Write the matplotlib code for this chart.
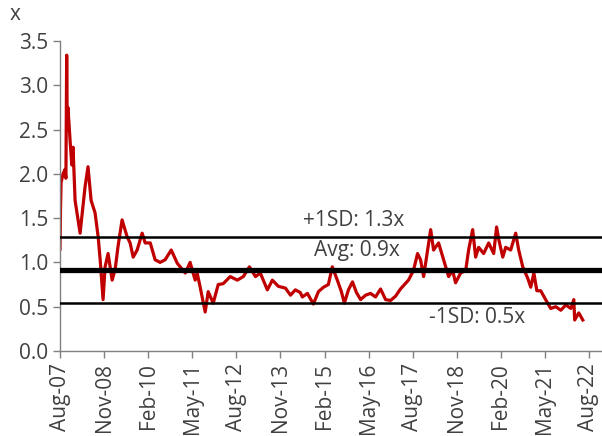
import matplotlib
matplotlib.use('Agg')
import matplotlib.pyplot as plt
import matplotlib.dates as mdates
import pandas as pd

# P/B-style multiple
dates = [
    '2007-08-01', '2007-08-06', '2007-08-12', '2007-09-01', '2007-09-22', '2007-10-01',
    '2007-10-09', '2007-10-15', '2007-10-22', '2007-11-13', '2007-12-01', '2007-12-14',
    '2008-01-04', '2008-02-25', '2008-04-16', '2008-05-17', '2008-06-18', '2008-07-29',
    '2008-08-30', '2008-09-20', '2008-10-20', '2008-11-10', '2008-12-11', '2009-01-22',
    '2009-02-22', '2009-03-24', '2009-05-05', '2009-06-26', '2009-07-27', '2009-08-28',
    '2009-10-08', '2009-11-29', '2009-12-30', '2010-02-21', '2010-04-12', '2010-06-03',
    '2010-07-25', '2010-09-26', '2010-11-28', '2011-02-19', '2011-04-10', '2011-06-01',
    '2011-06-22', '2011-07-23', '2011-09-13', '2011-10-14', '2011-12-05', '2012-01-26',
    '2012-03-18', '2012-05-29', '2012-08-11', '2012-10-12', '2012-12-14', '2013-02-15',
    '2013-04-06', '2013-06-18', '2013-08-09', '2013-10-10', '2013-12-22', '2014-02-13',
    '2014-04-04', '2014-05-25', '2014-06-16', '2014-08-07', '2014-10-08', '2014-11-29',
    '2015-01-21', '2015-03-12', '2015-04-22', '2015-06-13', '2015-07-25', '2015-08-25',
    '2015-10-06', '2015-11-17', '2015-12-28', '2016-02-09', '2016-04-01', '2016-05-22',
    '2016-07-13', '2016-09-03', '2016-10-25', '2016-12-16', '2017-02-06', '2017-03-28',
    '2017-06-19', '2017-08-10', '2017-09-21', '2017-10-22', '2017-11-23', '2018-01-03',
    '2018-02-04', '2018-03-06', '2018-04-27', '2018-06-18', '2018-08-09', '2018-09-19',
    '2018-10-20', '2018-12-11', '2019-02-02', '2019-03-04', '2019-04-15', '2019-05-16',
    '2019-06-16', '2019-08-07', '2019-09-28', '2019-11-19', '2019-12-19', '2020-01-10',
    '2020-02-21', '2020-03-22', '2020-05-13', '2020-07-04', '2020-08-04', '2020-09-15',
    '2020-11-06', '2020-12-07', '2021-01-08', '2021-02-08', '2021-03-20', '2021-05-10',
    '2021-07-02', '2021-08-23', '2021-10-14', '2021-12-05', '2022-01-26', '2022-02-26',
    '2022-03-07', '2022-04-18', '2022-05-30',
]
values = [
    1.15, 1.60, 1.90, 2.00, 2.05, 1.95,
    3.34, 2.50, 2.75, 2.38, 2.10, 2.30,
    1.70, 1.33, 1.85, 2.08, 1.70, 1.56,
    1.29, 1.03, 0.58, 0.95, 1.10, 0.80,
    0.92, 1.18, 1.48, 1.29, 1.22, 1.06,
    1.14, 1.33, 1.22, 1.22, 1.03, 1.00,
    1.03, 1.14, 0.99, 0.88, 1.00, 0.80,
    0.88, 0.72, 0.44, 0.67, 0.54, 0.75,
    0.76, 0.84, 0.80, 0.84, 0.95, 0.84,
    0.88, 0.69, 0.80, 0.73, 0.71, 0.63,
    0.69, 0.66, 0.61, 0.65, 0.53, 0.67,
    0.72, 0.75, 0.95, 0.80, 0.67, 0.54,
    0.69, 0.78, 0.66, 0.58, 0.63, 0.65,
    0.61, 0.70, 0.58, 0.57, 0.62, 0.70,
    0.80, 0.91, 1.10, 1.03, 0.84, 1.14,
    1.37, 1.14, 1.22, 1.03, 0.84, 0.91,
    0.77, 0.88, 0.91, 1.14, 1.37, 1.06,
    1.17, 1.10, 1.22, 1.10, 1.40, 1.26,
    1.06, 1.17, 1.14, 1.33, 1.14, 0.95,
    0.82, 0.72, 0.88, 0.68, 0.68, 0.58,
    0.48, 0.50, 0.46, 0.52, 0.48, 0.58,
    0.35, 0.43, 0.35,
]

avg = 0.915
plus_sd = 1.29
minus_sd = 0.54
bands = [plus_sd, avg, minus_sd]
band_labels = ['+1SD: 1.3x', 'Avg: 0.9x', '-1SD: 0.5x']

tick_dates = pd.date_range('2007-08-01', '2022-08-01', freq='15MS')

plt.rcParams['font.family'] = ['Open Sans', 'DejaVu Sans']
text_col = '#404040'
axis_col = '#808080'

fig = plt.figure(figsize=(6.02, 4.36), dpi=100)
ax = fig.add_axes([0.0997, 0.195, 0.9003, 0.711])

x = pd.to_datetime(dates)
ax.plot(x, values, color='#C00000', linewidth=2.3, zorder=2)

ax.axhline(bands[0], color='black', linewidth=1.8, zorder=3)
ax.axhline(bands[1], color='black', linewidth=3.8, zorder=3)
ax.axhline(bands[2], color='black', linewidth=1.8, zorder=3)

ax.text(0.5416, 1.47, band_labels[0], transform=ax.get_yaxis_transform(),
        ha='center', va='center', fontsize=15, color=text_col)
ax.text(0.547, 1.13, band_labels[1], transform=ax.get_yaxis_transform(),
        ha='center', va='center', fontsize=15, color=text_col)
ax.text(0.769, 0.38, band_labels[2], transform=ax.get_yaxis_transform(),
        ha='center', va='center', fontsize=15, color=text_col)

ax.set_ylim(0, 3.5)
ax.set_yticks([0, 0.5, 1.0, 1.5, 2.0, 2.5, 3.0, 3.5])
ax.yaxis.set_major_formatter(matplotlib.ticker.FormatStrFormatter('%.1f'))
ax.set_xlim(pd.Timestamp('2007-08-01'), pd.Timestamp('2022-12-15'))
ax.set_xticks(tick_dates)
ax.xaxis.set_major_formatter(mdates.DateFormatter('%b-%y'))
plt.setp(ax.get_xticklabels(), rotation=90)

ax.tick_params(axis='both', labelsize=15, labelcolor=text_col, color=axis_col,
               length=5, width=1, direction='out')
for side in ['top', 'right']:
    ax.spines[side].set_visible(False)
for side in ['left', 'bottom']:
    ax.spines[side].set_color(axis_col)
    ax.spines[side].set_linewidth(1)

fig.text(15 / 602, 1 - 14 / 436, 'x', ha='center', va='center', fontsize=15, color=text_col)

plt.savefig('out.png', dpi=100)
